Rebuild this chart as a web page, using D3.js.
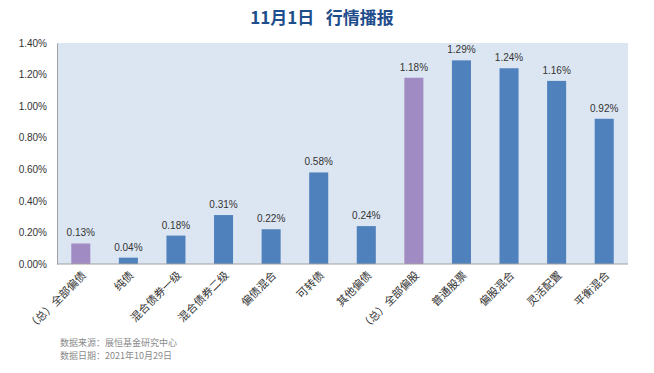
<!DOCTYPE html>
<html lang="zh">
<head>
<meta charset="UTF-8">
<title>11月1日 行情播报</title>
<style>
    body, html {
        margin: 0;
        background: #fff;
        font-family: "Liberation Sans", Arial, sans-serif;
    }
    .title {
        font-family: "Noto Sans CJK SC", sans-serif;
        font-weight: bold;
        font-size: 17px;
        fill: #1f4e8c;
        white-space: pre;
    }
    .axis text { font-size: 10px; fill: #333; }
    .xlab { font-family: "Noto Sans CJK SC", sans-serif; font-size: 11px; fill: #333; }
    .val { font-size: 10px; fill: #333; }
    .note { font-family: "Noto Sans CJK SC", sans-serif; font-size: 9px; fill: #8a8a8a; }
</style>
</head>
<body>
<svg id="chart" width="654" height="373"></svg>
<script src="https://d3js.org/d3.v7.min.js"></script>
<script>
    const categories = ["（总）全部偏债", "纯债", "混合债券一级", "混合债券二级", "偏债混合", "可转债",
        "其他偏债", "（总）全部偏股", "普通股票", "偏股混合", "灵活配置", "平衡混合"];
    const values = [0.13, 0.04, 0.18, 0.31, 0.22, 0.58, 0.24, 1.18, 1.29, 1.24, 1.16, 0.92];
    const totals = ["（总）全部偏债", "（总）全部偏股"];
    const yTicks = [0, 0.2, 0.4, 0.6, 0.8, 1.0, 1.2, 1.4];

    const svg = d3.select("#chart");
    const plotLeft = 57, plotRight = 628, plotTop = 43, plotBottom = 264;

    const x = d3.scaleBand().domain(categories).range([plotLeft, plotRight]).paddingInner(0.6).paddingOuter(0.3);
    const y = d3.scaleLinear().domain([0, 1.4]).range([plotBottom, plotTop]);

    svg.append("text").attr("class", "title")
        .attr("x", 322).attr("y", 24).attr("text-anchor", "middle")
        .text("11月1日\u00a0\u00a0\u00a0行情播报");

    svg.append("rect")
        .attr("x", plotLeft).attr("y", plotTop)
        .attr("width", plotRight - plotLeft).attr("height", plotBottom - plotTop)
        .attr("fill", "#dce6f2");

    // y axis
    const yAxis = svg.append("g").attr("class", "axis")
        .attr("transform", `translate(${plotLeft},0)`)
        .call(d3.axisLeft(y).tickValues(yTicks).tickSize(0).tickPadding(10)
            .tickFormat(d => d.toFixed(2) + "%"));
    yAxis.select(".domain").attr("stroke", "#a0a0a0");

    // bars
    svg.selectAll(".bar").data(categories).enter().append("rect")
        .attr("class", "bar")
        .attr("x", d => x(d))
        .attr("width", x.bandwidth())
        .attr("y", (d, i) => y(values[i]))
        .attr("height", (d, i) => plotBottom - y(values[i]))
        .attr("fill", d => totals.includes(d) ? "#a08cc3" : "#4f81bd");

    svg.selectAll(".val").data(categories).enter().append("text")
        .attr("class", "val")
        .attr("x", d => x(d) + x.bandwidth() / 2)
        .attr("y", (d, i) => y(values[i]) - 7)
        .attr("text-anchor", "middle")
        .text((d, i) => values[i].toFixed(2) + "%");

    // x axis line
    svg.append("line")
        .attr("x1", plotLeft).attr("x2", plotRight)
        .attr("y1", plotBottom).attr("y2", plotBottom)
        .attr("stroke", "#a0a0a0");

    svg.selectAll(".xlab").data(categories).enter().append("text")
        .attr("class", "xlab")
        .attr("text-anchor", "end")
        .attr("transform", d => `translate(${x(d) + x.bandwidth() / 2 + 6},${plotBottom + 12}) rotate(-45)`)
        .text(d => d);

    svg.append("text").attr("class", "note").attr("x", 60).attr("y", 346)
        .text("数据来源：展恒基金研究中心");
    svg.append("text").attr("class", "note").attr("x", 60).attr("y", 359)
        .text("数据日期：2021年10月29日");
</script>
</body>
</html>
